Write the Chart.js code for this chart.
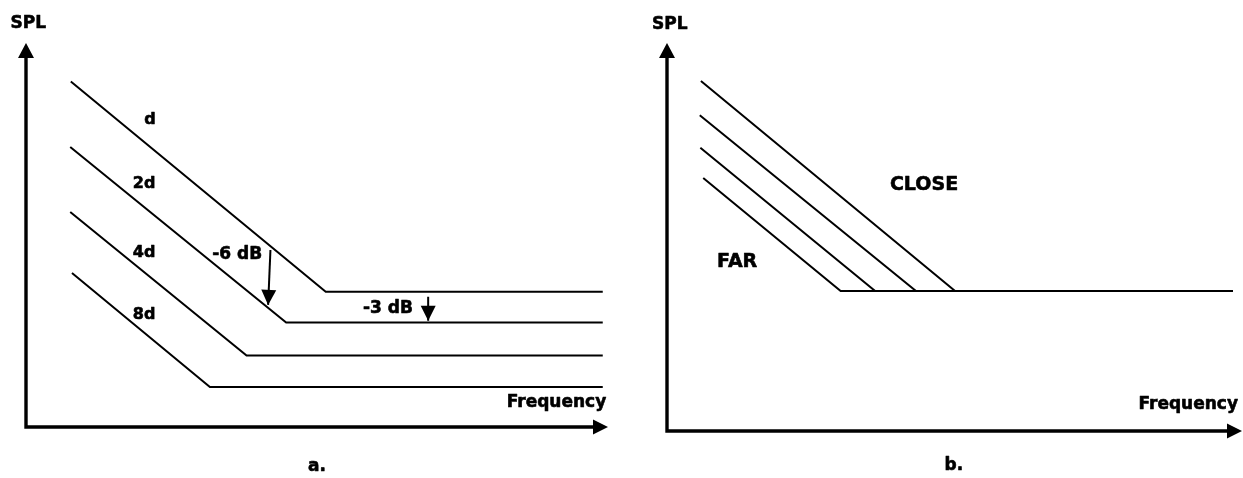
<!DOCTYPE html>
<html>
<head>
<meta charset="utf-8">
<script src="https://cdn.jsdelivr.net/npm/chart.js@4.4.0/dist/chart.umd.min.js"></script>
<style>
    html, body { margin: 0; padding: 0; background: #fff; }
    #wrap { position: relative; width: 1243px; height: 478px; }
    canvas { position: absolute; top: 0; }
    #chartA { left: 0; }
    #chartB { left: 620px; }
</style>
</head>
<body>
<div id="wrap">
    <canvas id="chartA" width="620" height="478"></canvas>
    <canvas id="chartB" width="623" height="478"></canvas>
</div>
<script>
// Panel a: SPL vs frequency at distances d, 2d, 4d, 8d (arbitrary 0-100 units)
const distLabels = ['d', '2d', '4d', '8d'];
const aStartFreq = [7.7, 7.6, 7.6, 7.9];
const aStartSpl = [90.0, 72.9, 56.0, 40.1];
const aKneeFreq = [51.5, 44.7, 37.9, 31.6];
const aFlatSpl = [35.2, 27.2, 18.6, 10.4];
const aEndFreq = 99.1;

// -6 dB and -3 dB drop markers (from -> to)
const sixDbFreq = [42.0, 41.6];
const sixDbSpl = [46.1, 31.8];
const threeDbFreq = [69.1, 69.1];
const threeDbSpl = [33.9, 27.7];

// Panel b: close -> far, all meeting the same flat level
const bStartFreq = [5.9, 5.7, 5.8, 6.3];
const bStartSpl = [90.2, 81.4, 73.0, 65.2];
const bKneeFreq = [50.1, 43.3, 36.2, 30.2];
const bFlatSpl = 36.1;
const bEndFreq = 98.4;

const FONT = '"DejaVu Sans", sans-serif';

// text labels, anchored in data units
const labelsA = [
    { text: distLabels[0], x: 21.3, y: 79.9, size: 16 },
    { text: distLabels[1], x: 20.3, y: 63.3, size: 16 },
    { text: distLabels[2], x: 20.3, y: 45.3, size: 16 },
    { text: distLabels[3], x: 20.3, y: 29.3, size: 16 },
    { text: '-6 dB', x: 36.3, y: 44.8, size: 17 },
    { text: '-3 dB', x: 62.2, y: 30.9, size: 17 },
    { text: 'Frequency', x: 99.7, y: 6.4, size: 17, align: 'right' },
    { text: 'SPL', x: 0.4, y: 105.1, size: 17 },
    { text: 'a.', x: 50.0, y: -10.4, size: 17 }
];
const labelsB = [
    { text: 'CLOSE', x: 44.7, y: 63.4, size: 19 },
    { text: 'FAR', x: 12.2, y: 43.6, size: 19 },
    { text: 'Frequency', x: 99.3, y: 6.8, size: 17, align: 'right' },
    { text: 'SPL', x: 0.5, y: 104.8, size: 17 },
    { text: 'b.', x: 49.9, y: -9.0, size: 17 }
];

function arrowHead(c, tx, ty, fx, fy, len, width) {
    const ang = Math.atan2(ty - fy, tx - fx);
    c.save();
    c.translate(tx, ty);
    c.rotate(ang);
    c.beginPath();
    c.moveTo(0, 0);
    c.lineTo(-len, -width / 2);
    c.lineTo(-len, width / 2);
    c.closePath();
    c.fillStyle = '#000';
    c.fill();
    c.restore();
}

// axes with arrows, text labels and arrowheads on marker datasets
const sketchPlugin = {
    id: 'sketch',
    afterDatasetsDraw(chart, args, opts) {
        const c = chart.ctx;
        const xs = chart.scales.x, ys = chart.scales.y;
        const x0 = xs.getPixelForValue(xs.min), y0 = ys.getPixelForValue(ys.min);
        const x1 = xs.getPixelForValue(xs.max), y1 = ys.getPixelForValue(ys.min);
        const x2 = xs.getPixelForValue(xs.min), y2 = ys.getPixelForValue(ys.max);

        c.save();
        c.strokeStyle = '#000';
        c.lineWidth = 3.4;
        c.lineCap = 'butt';
        c.beginPath();
        c.moveTo(x0 - 1.7, y0);
        c.lineTo(x1 - 12, y1);
        c.moveTo(x0, y0 + 1.7);
        c.lineTo(x2, y2 + 12);
        c.stroke();
        arrowHead(c, x1, y1, x0, y0, 15, 15);
        arrowHead(c, x2, y2, x0, y0, 15, 16);

        chart.data.datasets.forEach((ds, i) => {
            if (!ds.arrow) return;
            const pts = chart.getDatasetMeta(i).data;
            const a = pts[pts.length - 2], b = pts[pts.length - 1];
            arrowHead(c, b.x, b.y, a.x, a.y, 15, 15);
        });

        c.fillStyle = '#000';
        c.strokeStyle = '#000';
        c.lineWidth = 0.6;
        c.lineJoin = 'round';
        c.textBaseline = 'middle';
        (opts.labels || []).forEach(l => {
            c.font = 'bold ' + l.size + 'px ' + FONT;
            c.textAlign = l.align || 'center';
            const px = xs.getPixelForValue(l.x), py = ys.getPixelForValue(l.y);
            c.fillText(l.text, px, py);
            c.strokeText(l.text, px, py);
        });
        c.restore();
    }
};

function lineSet(points, arrow) {
    return {
        data: points,
        showLine: true,
        borderColor: '#000',
        borderWidth: 2,
        pointRadius: 0,
        fill: false,
        tension: 0,
        arrow: !!arrow
    };
}

function makeChart(id, datasets, padding, labels) {
    return new Chart(document.getElementById(id), {
        type: 'scatter',
        data: { datasets: datasets },
        options: {
            responsive: false,
            animation: false,
            events: [],
            layout: { padding: padding },
            scales: {
                x: { type: 'linear', min: 0, max: 100, display: false },
                y: { type: 'linear', min: 0, max: 100, display: false }
            },
            plugins: {
                legend: { display: false },
                tooltip: { enabled: false },
                sketch: { labels: labels }
            }
        },
        plugins: [sketchPlugin]
    });
}

// Panel a datasets
const setsA = distLabels.map((lbl, i) => lineSet([
    { x: aStartFreq[i], y: aStartSpl[i] },
    { x: aKneeFreq[i], y: aFlatSpl[i] },
    { x: aEndFreq, y: aFlatSpl[i] }
]));
setsA.push(lineSet([{ x: sixDbFreq[0], y: sixDbSpl[0] }, { x: sixDbFreq[1], y: sixDbSpl[1] }], true));
setsA.push(lineSet([{ x: threeDbFreq[0], y: threeDbSpl[0] }, { x: threeDbFreq[1], y: threeDbSpl[1] }], true));

// Panel b datasets
const setsB = bStartFreq.map((f, i) => lineSet([
    { x: f, y: bStartSpl[i] },
    { x: bKneeFreq[i], y: bFlatSpl },
    { x: bEndFreq, y: bFlatSpl }
]));

makeChart('chartA', setsA, { left: 26, right: 12, top: 43, bottom: 51 }, labelsA);
makeChart('chartB', setsB, { left: 47, right: 1, top: 43, bottom: 47 }, labelsB);
</script>
</body>
</html>
